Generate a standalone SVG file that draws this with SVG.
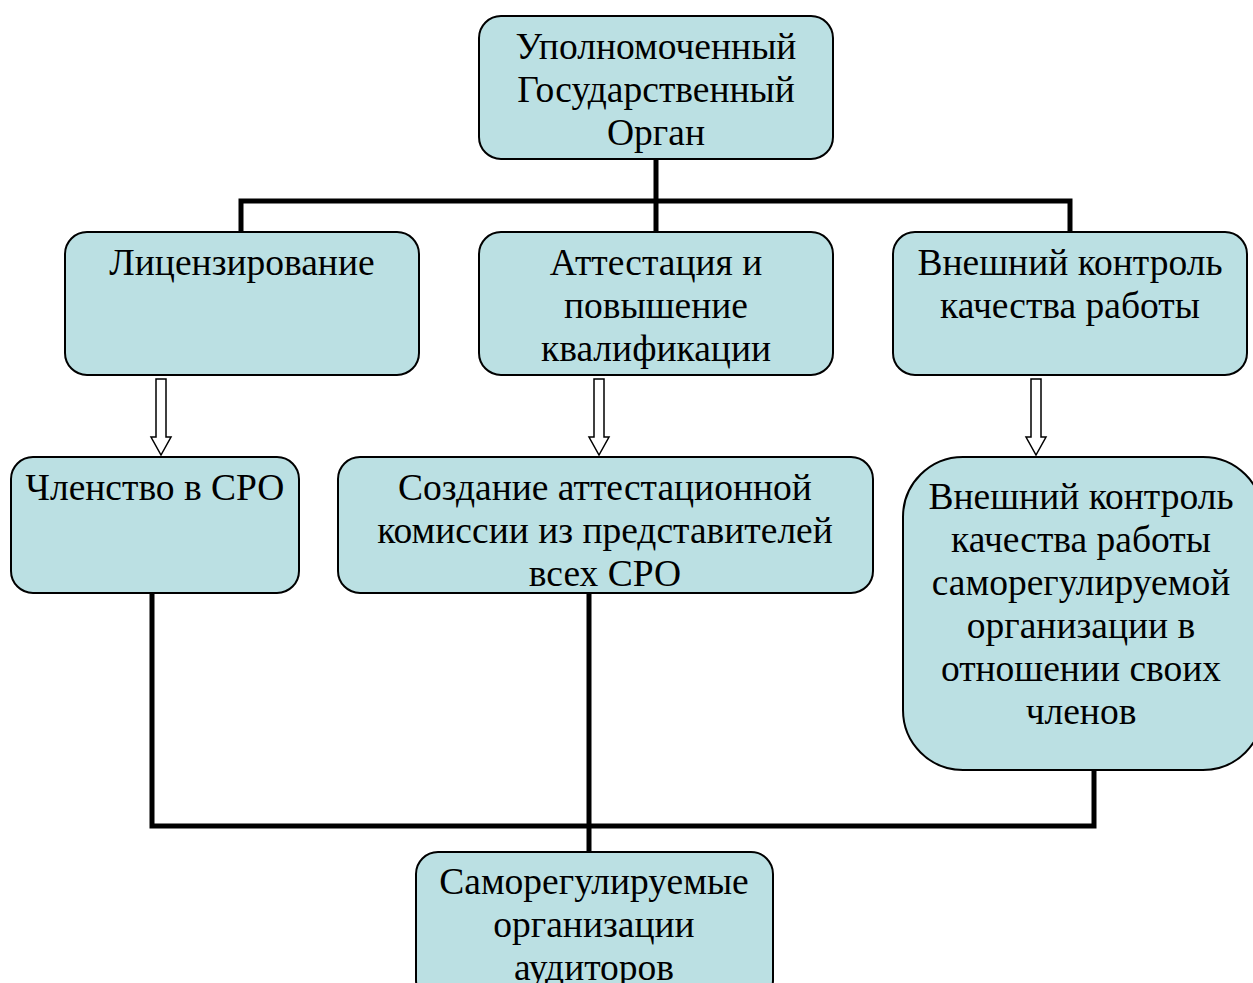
<svg xmlns="http://www.w3.org/2000/svg" width="1253" height="983" viewBox="0 0 1253 983">
<style>
.box{fill:#BBE0E3;stroke:#000;stroke-width:2}
.t{font-family:"Liberation Serif","Times New Roman",serif;font-size:37.5px;fill:#000;text-anchor:middle}
.ln{fill:none;stroke:#000;stroke-width:5}
.ar{fill:#fff;stroke:#000;stroke-width:1.5}
</style>
<rect width="1253" height="983" fill="#fff"/>
<g id="connectors">
<path class="ln" d="M656 159V201M241 232V201H1070V232M656 201V232"/>
<path class="ln" d="M152 593V826H1094V770M589 593V852"/>
<polygon class="ar" points="156,379 166,379 166,437 171,437 161,455 151,437 156,437"/>
<polygon class="ar" points="594,379 604,379 604,437 609,437 599,455 589,437 594,437"/>
<polygon class="ar" points="1031,379 1041,379 1041,437 1046,437 1036,455 1026,437 1031,437"/>
</g>
<g id="n1"><rect class="box" x="479" y="16" width="354" height="143" rx="22"/>
<text class="t" x="656" y="59">Уполномоченный</text><text class="t" x="656" y="102">Государственный</text><text class="t" x="656" y="145">Орган</text></g>
<g id="n2"><rect class="box" x="65" y="232" width="354" height="143" rx="22"/>
<text class="t" x="242" y="275">Лицензирование</text></g>
<g id="n3"><rect class="box" x="479" y="232" width="354" height="143" rx="22"/>
<text class="t" x="656" y="275">Аттестация и</text><text class="t" x="656" y="318">повышение</text><text class="t" x="656" y="361">квалификации</text></g>
<g id="n4"><rect class="box" x="893" y="232" width="354" height="143" rx="22"/>
<text class="t" x="1070" y="275">Внешний контроль</text><text class="t" x="1070" y="318">качества работы</text></g>
<g id="n5"><rect class="box" x="11" y="457" width="288" height="136" rx="22"/>
<text class="t" x="155" y="500">Членство в СРО</text></g>
<g id="n6"><rect class="box" x="338" y="457" width="535" height="136" rx="22"/>
<text class="t" x="605" y="500">Создание аттестационной</text><text class="t" x="605" y="543">комиссии из представителей</text><text class="t" x="605" y="586">всех СРО</text></g>
<g id="n7"><rect class="box" x="903" y="457" width="360" height="313" rx="60"/>
<text class="t" x="1081" y="509">Внешний контроль</text><text class="t" x="1081" y="552">качества работы</text><text class="t" x="1081" y="595">саморегулируемой</text><text class="t" x="1081" y="638">организации в</text><text class="t" x="1081" y="681">отношении своих</text><text class="t" x="1081" y="724">членов</text></g>
<g id="n8"><rect class="box" x="416" y="852" width="357" height="150" rx="22"/>
<text class="t" x="594" y="894">Саморегулируемые</text><text class="t" x="594" y="937">организации</text><text class="t" x="594" y="980">аудиторов</text></g>
</svg>
